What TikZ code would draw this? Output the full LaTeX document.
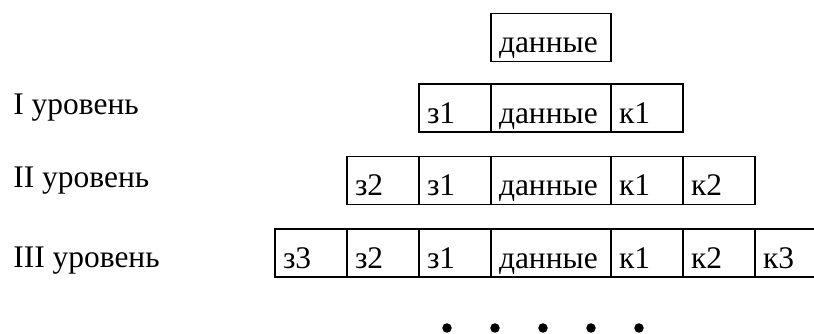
\documentclass[tikz,border=0pt]{standalone}
\usepackage{fontspec}
\setmainfont{Liberation Serif}
\usepackage{tikz}
\usetikzlibrary{positioning}

\begin{document}
\begin{tikzpicture}[
      cell/.style={rectangle,draw,line width=1.1pt,outer sep=0pt,inner ysep=0pt,inner xsep=0.16cm,
        minimum height=0.96cm,text height=19.4pt,text depth=2.1pt,align=left,
        font=\fontsize{17.9pt}{21pt}\selectfont},
      narrow/.style={cell,text width=1.12cm},
      wide/.style={cell,text width=2.08cm},
      lvl/.style={inner sep=0pt,anchor=base west,font=\fontsize{17.9pt}{21pt}\selectfont}]
    \clip (0,0) rectangle (16.28,-6.68);
    % bare data block
    \node[wide] (d0) at (11.02,-0.75) {данные};
    % level I
    \node[lvl] (lI) at (0.26,-2.30) {I уровень};
    \node[wide] (dI) at (11.02,-2.16) {данные};
    \node[narrow,left=0pt of dI] (zI1) {з1};
    \node[narrow,right=0pt of dI] (kI1) {к1};
    % level II
    \node[lvl] (lII) at (0.26,-3.76) {II уровень};
    \node[wide] (dII) at (11.02,-3.61) {данные};
    \node[narrow,left=0pt of dII] (zII1) {з1};
    \node[narrow,left=0pt of zII1] (zII2) {з2};
    \node[narrow,right=0pt of dII] (kII1) {к1};
    \node[narrow,right=0pt of kII1] (kII2) {к2};
    % level III
    \node[lvl] (lIII) at (0.26,-5.36) {III уровень};
    \node[wide] (dIII) at (11.02,-5.06) {данные};
    \node[narrow,left=0pt of dIII] (zIII1) {з1};
    \node[narrow,left=0pt of zIII1] (zIII2) {з2};
    \node[narrow,left=0pt of zIII2] (zIII3) {з3};
    \node[narrow,right=0pt of dIII] (kIII1) {к1};
    \node[narrow,right=0pt of kIII1] (kIII2) {к2};
    \node[narrow,right=0pt of kIII2] (kIII3) {к3};
    % and so on
    \foreach \x in {8.94,9.90,10.86,11.82,12.78}
      \fill (\x,-6.56) circle (0.095);
  \end{tikzpicture}
\end{document}
